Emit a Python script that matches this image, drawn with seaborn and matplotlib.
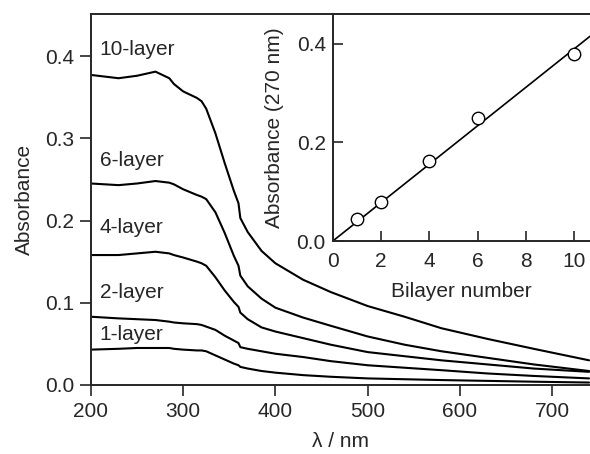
import pandas as pd
import matplotlib
matplotlib.use("Agg")
import matplotlib.pyplot as plt
import seaborn as sns

wavelength = [200, 230, 250, 270, 285, 290, 300, 315, 320, 325, 335, 345, 355, 360, 362,
              370, 385, 400, 430, 460, 500, 540, 580, 630, 680, 740]

abs_10 = [0.377, 0.373, 0.376, 0.381, 0.373, 0.366, 0.357, 0.349, 0.345, 0.336, 0.306, 0.270, 0.236, 0.221, 0.203,
          0.186, 0.163, 0.148, 0.128, 0.113, 0.096, 0.083, 0.069, 0.056, 0.044, 0.030]
abs_6 = [0.245, 0.243, 0.245, 0.248, 0.246, 0.244, 0.238, 0.231, 0.229, 0.226, 0.210, 0.185, 0.157, 0.145, 0.133,
         0.120, 0.105, 0.094, 0.082, 0.072, 0.059, 0.049, 0.041, 0.033, 0.025, 0.017]
abs_4 = [0.158, 0.158, 0.160, 0.162, 0.160, 0.158, 0.155, 0.150, 0.148, 0.145, 0.131, 0.115, 0.101, 0.095, 0.088,
         0.080, 0.070, 0.065, 0.057, 0.049, 0.040, 0.035, 0.030, 0.025, 0.020, 0.016]
abs_2 = [0.083, 0.081, 0.080, 0.079, 0.077, 0.076, 0.075, 0.074, 0.073, 0.071, 0.067, 0.060, 0.054, 0.051, 0.046,
         0.044, 0.041, 0.038, 0.034, 0.029, 0.024, 0.021, 0.018, 0.014, 0.011, 0.008]
abs_1 = [0.043, 0.044, 0.045, 0.045, 0.045, 0.044, 0.043, 0.042, 0.042, 0.041, 0.036, 0.031, 0.026, 0.024, 0.022,
         0.020, 0.017, 0.015, 0.012, 0.010, 0.008, 0.007, 0.006, 0.005, 0.004, 0.003]

layer_names = ["10-layer", "6-layer", "4-layer", "2-layer", "1-layer"]
label_y = [0.408, 0.273, 0.191, 0.112, 0.062]

# inset: absorbance at 270 nm vs bilayer number
bilayers = [1, 2, 4, 6, 10]
abs_270 = [0.045, 0.080, 0.163, 0.250, 0.380]
fit_x = [0, 10.65]
fit_y = [0, 0.415]

df = pd.DataFrame({"wl": wavelength, "10-layer": abs_10, "6-layer": abs_6,
                   "4-layer": abs_4, "2-layer": abs_2, "1-layer": abs_1})
long_df = df.melt(id_vars="wl", var_name="layer", value_name="absorbance")

sns.set_style("ticks")
plt.rcParams["font.family"] = ["Liberation Sans", "DejaVu Sans"]
plt.rcParams["font.size"] = 15
plt.rcParams["axes.linewidth"] = 1.4

fig = plt.figure(figsize=(5.9, 4.54), dpi=100)
ax = fig.add_axes([0.154, 0.152, 0.846, 0.817])

sns.lineplot(data=long_df, x="wl", y="absorbance", hue="layer", units="layer",
             estimator=None, palette=["black"] * 5, linewidth=1.5, legend=False, ax=ax)

for name, yy in zip(layer_names, label_y):
    ax.text(209.5, yy, name, ha="left", va="center", fontsize=15)

ax.set_xlim(200, 741)
ax.set_ylim(0, 0.451)
ax.set_xticks([200, 300, 400, 500, 600, 700])
ax.set_yticks([0.0, 0.1, 0.2, 0.3, 0.4])
ax.set_yticklabels(["0.0", "0.1", "0.2", "0.3", "0.4"])
ax.set_xlabel("λ / nm", fontsize=15, labelpad=8)
ax.set_ylabel("Absorbance", fontsize=15, labelpad=8)
ax.tick_params(direction="out", length=8, width=1.2, labelsize=15, pad=4)
ax.spines["right"].set_visible(False)

# inset
ins = fig.add_axes([0.564, 0.469, 0.436, 0.500])
ins.set_facecolor("white")
sns.lineplot(x=fit_x, y=fit_y, color="black", linewidth=1.2, ax=ins)
sns.scatterplot(x=bilayers, y=abs_270, s=80, facecolor="white", edgecolor="black",
                linewidth=1.0, zorder=3, ax=ins)
ins.set_xlim(0, 10.65)
ins.set_ylim(0, 0.46)
ins.set_xticks([0, 2, 4, 6, 8, 10])
ins.set_yticks([0.0, 0.2, 0.4])
ins.set_yticklabels(["0.0", "0.2", "0.4"])
ins.set_xlabel("Bilayer number", fontsize=15, labelpad=8)
ins.set_ylabel("Absorbance (270 nm)", fontsize=15, labelpad=9)
ins.tick_params(direction="in", length=7, width=1.2, labelsize=15)
ins.tick_params(axis="x", pad=8)
ins.tick_params(axis="y", pad=5)
ins.spines["right"].set_visible(False)

fig.savefig("out.png", dpi=100)
